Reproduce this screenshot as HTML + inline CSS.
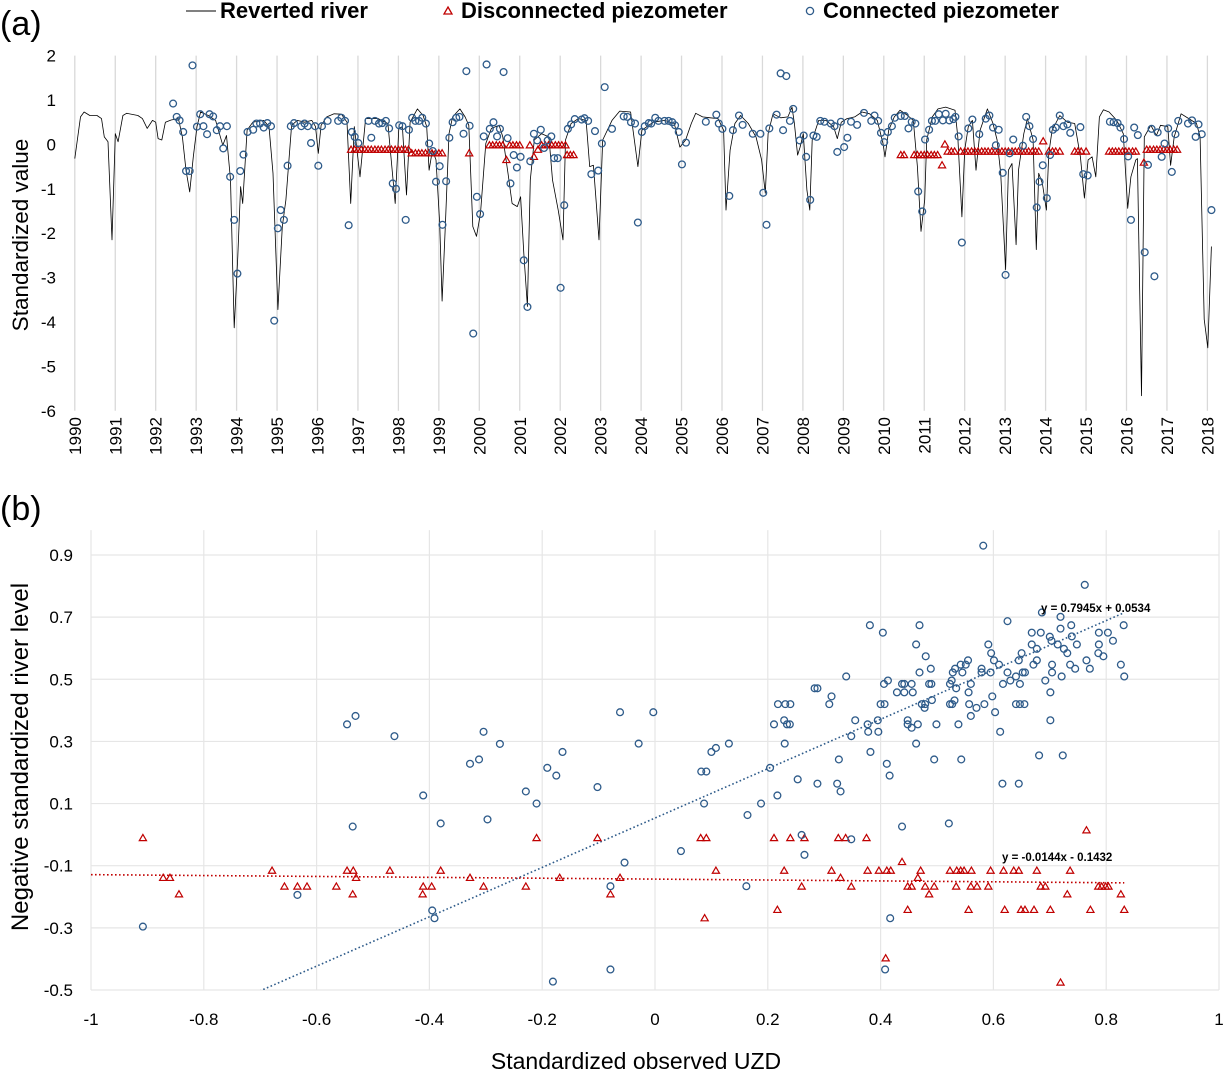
<!DOCTYPE html>
<html><head><meta charset="utf-8">
<style>
body{margin:0;background:#fff;}
svg{display:block;font-family:"Liberation Sans",Arial,sans-serif;}
</style></head>
<body>
<svg id="chart" width="1225" height="1072" viewBox="0 0 1225 1072" xmlns="http://www.w3.org/2000/svg">
<text x="0" y="35" font-size="34">(a)</text>
<text x="0" y="520" font-size="34">(b)</text>
<g font-size="22" font-weight="bold">
  <g>
    <line x1="186" y1="11" x2="216" y2="11" stroke="#000" stroke-width="1"/>
    <text x="220" y="18">Reverted river</text>
  </g>
  <g>
    <polygon points="448,7 452,14 444,14" fill="none" stroke="#c00000" stroke-width="1.3"/>
    <text x="461" y="18">Disconnected piezometer</text>
  </g>
  <g>
    <circle cx="810" cy="11" r="3.6" fill="none" stroke="#2e5b8a" stroke-width="1.3"/>
    <text x="823" y="18">Connected piezometer</text>
  </g>
</g>
<text transform="translate(28,235) rotate(-90)" text-anchor="middle" font-size="22.5">Standardized value</text>
<text transform="translate(28,757) rotate(-90)" text-anchor="middle" font-size="24">Negative standardized river level</text>
<text x="636" y="1069" text-anchor="middle" font-size="23">Standardized observed UZD</text>
<g id="pa"></g>
<g id="pb"></g>
</svg>
<script>
// ---------- Panel (a) data ----------
const riverYears = [1990.0,1990.14,1990.23,1990.37,1990.55,1990.66,1990.73,1990.82,1990.92,1991.0,1991.07,1991.19,1991.28,1991.56,1991.67,1991.79,1991.92,1992.0,1992.06,1992.15,1992.24,1992.38,1992.56,1992.66,1992.75,1992.84,1992.93,1993.02,1993.11,1993.3,1993.48,1993.66,1993.75,1993.85,1993.94,1994.03,1994.1,1994.15,1994.26,1994.4,1994.67,1994.8,1994.9,1995.02,1995.13,1995.22,1995.36,1995.5,1995.68,1995.86,1995.95,1996.02,1996.09,1996.23,1996.41,1996.59,1996.73,1996.82,1996.91,1997.05,1997.19,1997.5,1997.74,1997.92,1998.01,1998.1,1998.2,1998.29,1998.47,1998.61,1998.7,1998.76,1998.84,1998.93,1999.02,1999.08,1999.16,1999.25,1999.34,1999.52,1999.65,1999.74,1999.84,1999.93,2000.03,2000.16,2000.3,2000.49,2000.58,2000.71,2000.81,2000.94,2001.02,2001.1,2001.19,2001.26,2001.36,2001.54,2001.72,2001.81,2001.95,2002.07,2002.13,2002.27,2002.45,2002.64,2002.73,2002.82,2002.88,2002.96,2003.05,2003.28,2003.47,2003.74,2003.92,2004.02,2004.3,2004.58,2004.82,2004.96,2005.1,2005.24,2005.35,2005.52,2005.71,2005.9,2006.04,2006.1,2006.2,2006.32,2006.46,2006.65,2006.84,2006.98,2007.07,2007.14,2007.26,2007.45,2007.63,2007.73,2007.79,2007.87,2007.93,2008.01,2008.1,2008.17,2008.23,2008.39,2008.57,2008.76,2008.85,2008.95,2009.09,2009.28,2009.46,2009.65,2009.84,2009.98,2010.03,2010.12,2010.26,2010.4,2010.59,2010.73,2010.83,2010.92,2011.01,2011.06,2011.2,2011.34,2011.53,2011.76,2011.83,2011.93,2012.0,2012.09,2012.19,2012.28,2012.38,2012.56,2012.7,2012.8,2012.89,2013.01,2013.08,2013.17,2013.27,2013.33,2013.46,2013.55,2013.69,2013.77,2013.83,2013.92,2014.02,2014.08,2014.16,2014.35,2014.54,2014.72,2014.86,2014.96,2015.05,2015.15,2015.24,2015.33,2015.43,2015.57,2015.76,2015.92,2016.03,2016.11,2016.23,2016.27,2016.37,2016.44,2016.6,2016.74,2016.84,2017.02,2017.09,2017.18,2017.35,2017.54,2017.73,2017.82,2017.92,2018.01,2018.1];
const riverVals = [-0.32,0.62,0.73,0.65,0.65,0.58,0.17,0.06,-2.15,0.24,0.06,0.65,0.7,0.65,0.58,0.36,0.54,0.5,0.13,0.1,0.5,0.55,0.58,0.17,-0.58,-1.07,-0.28,0.4,0.73,0.65,0.54,-0.02,0.2,-0.8,-4.13,-2.52,-0.95,-1.33,0.32,0.5,0.54,0.4,-0.65,-3.72,-1.85,-1.25,0.43,0.54,0.5,0.54,0.4,-0.2,0.43,0.62,0.69,0.68,0.5,-1.33,0.4,-0.73,0.58,0.58,0.47,-1.33,0.36,0.4,-1.14,0.5,0.8,0.65,0.4,-0.58,-0.13,-0.35,-1.78,-3.53,-1.85,0.24,0.62,0.8,0.62,0.43,-1.85,-2.07,-1.55,0.02,0.36,0.43,0.17,-0.65,-1.33,-1.4,-1.18,-2.45,-3.65,-0.8,0.1,0.24,0.17,-0.8,-1.48,-2.15,0.1,0.47,0.58,0.54,-0.5,-0.47,-1.18,-2.15,0.1,0.54,0.75,0.73,-0.5,0.32,0.5,0.54,0.47,-0.06,0.1,0.47,0.7,0.62,0.6,0.58,0.32,-1.48,-0.13,0.47,0.65,0.47,0.17,-0.35,-1.1,0.24,0.69,0.6,0.62,0.84,0.47,-0.24,-0.06,0.24,-1.03,-1.48,0.1,0.54,0.54,0.4,0.13,0.5,0.58,0.62,0.73,0.69,0.54,0.02,-0.28,0.32,0.62,0.77,0.65,0.54,-0.5,-1.96,-1.25,0.1,0.62,0.8,0.84,0.77,0.17,-1.63,-0.13,0.4,0.54,-0.58,0.32,0.8,0.47,0.1,-0.65,-2.82,-0.58,-0.43,-2.26,-0.58,0.24,0.58,0.1,-2.37,-0.65,-0.88,-1.48,-0.2,0.32,0.65,0.5,0.47,-0.28,-1.21,-0.35,-0.28,-0.73,0.62,0.78,0.73,0.54,0.24,-1.44,-0.73,-0.35,-0.32,-5.66,0.17,0.43,0.2,0.43,0.4,-0.47,0.17,0.69,0.58,0.47,0.17,-3.94,-4.58,-2.3];

const connYears = [1992.43,1992.52,1992.59,1992.68,1992.75,1992.84,1992.91,1993.02,1993.1,1993.18,1993.27,1993.33,1993.42,1993.51,1993.59,1993.67,1993.76,1993.84,1993.94,1994.02,1994.09,1994.17,1994.27,1994.41,1994.49,1994.58,1994.67,1994.76,1994.85,1994.93,1995.02,1995.09,1995.17,1995.26,1995.34,1995.42,1995.6,1995.68,1995.76,1995.84,1995.94,1996.02,1996.11,1996.25,1996.51,1996.59,1996.68,1996.77,1996.85,1996.92,1997.01,1997.26,1997.33,1997.42,1997.52,1997.6,1997.69,1997.77,1997.86,1997.94,1998.02,1998.1,1998.18,1998.26,1998.34,1998.42,1998.51,1998.59,1998.68,1998.76,1998.85,1998.93,1999.02,1999.09,1999.18,1999.26,1999.34,1999.43,1999.51,1999.61,1999.68,1999.76,1999.85,1999.94,2000.02,2000.11,2000.18,2000.26,2000.35,2000.44,2000.51,2000.6,2000.7,2000.77,2000.85,2000.93,2001.02,2001.1,2001.19,2001.26,2001.35,2001.43,2001.52,2001.6,2001.69,2001.78,2001.85,2001.94,2002.01,2002.1,2002.19,2002.27,2002.36,2002.53,2002.6,2002.69,2002.77,2002.86,2002.94,2003.03,2003.1,2003.28,2003.57,2003.66,2003.75,2003.85,2003.92,2004.02,2004.09,2004.19,2004.25,2004.35,2004.43,2004.58,2004.68,2004.77,2004.84,2004.93,2005.01,2005.11,2005.6,2005.86,2005.92,2006.01,2006.18,2006.27,2006.42,2006.51,2006.76,2006.95,2007.02,2007.1,2007.17,2007.35,2007.45,2007.51,2007.59,2007.68,2007.76,2007.92,2008.02,2008.08,2008.18,2008.26,2008.34,2008.43,2008.53,2008.69,2008.78,2008.85,2008.94,2009.02,2009.1,2009.19,2009.34,2009.51,2009.69,2009.77,2009.86,2009.93,2010.01,2010.1,2010.2,2010.27,2010.42,2010.52,2010.61,2010.69,2010.78,2010.85,2010.95,2011.02,2011.12,2011.19,2011.27,2011.36,2011.46,2011.53,2011.62,2011.72,2011.77,2011.85,2011.93,2012.09,2012.19,2012.36,2012.52,2012.61,2012.7,2012.77,2012.84,2012.94,2013.01,2013.11,2013.2,2013.44,2013.52,2013.6,2013.69,2013.78,2013.85,2013.93,2014.03,2014.11,2014.18,2014.25,2014.35,2014.44,2014.54,2014.61,2014.86,2014.93,2015.04,2015.59,2015.68,2015.78,2015.85,2015.94,2016.04,2016.11,2016.19,2016.28,2016.45,2016.53,2016.62,2016.69,2016.77,2016.87,2016.94,2017.03,2017.12,2017.21,2017.28,2017.52,2017.62,2017.71,2017.78,2017.86,2018.1];
const connVals = [0.92,0.62,0.54,0.28,-0.6,-0.6,1.78,0.4,0.68,0.41,0.23,0.68,0.63,0.32,0.41,-0.09,0.41,-0.73,-1.7,-2.91,-0.6,-0.23,0.28,0.33,0.47,0.47,0.38,0.48,0.41,-3.97,-1.89,-1.48,-1.7,-0.48,0.41,0.48,0.41,0.47,0.41,0.03,0.41,-0.48,0.41,0.53,0.53,0.6,0.53,-1.82,0.28,0.17,0.03,0.53,0.15,0.53,0.47,0.48,0.53,0.36,-0.88,-1.0,0.43,0.41,-1.7,0.33,0.6,0.53,0.53,0.6,0.47,0.02,-0.15,-0.84,-0.49,-1.81,-0.83,0.15,0.5,0.6,0.62,0.24,1.65,0.42,-4.26,-1.18,-1.57,0.18,1.8,0.35,0.5,0.18,0.35,1.63,0.14,-0.88,-0.24,-0.52,-0.28,-2.61,-3.66,-0.38,0.24,0.09,0.33,-0.08,0.09,0.18,-0.31,-0.31,-3.23,-1.37,0.35,0.45,0.57,0.56,0.59,0.53,-0.67,0.3,-0.59,0.02,1.29,0.35,0.63,0.62,0.5,0.47,-1.76,0.28,0.41,0.48,0.47,0.6,0.53,0.53,0.53,0.5,0.43,0.28,-0.45,0.04,0.51,0.67,0.47,0.35,-1.16,0.32,0.65,0.44,0.24,0.24,-1.09,-1.81,0.36,0.67,1.6,0.32,1.54,0.53,0.8,0.09,0.2,-0.28,-1.25,0.2,0.17,0.53,0.51,0.47,0.41,-0.17,0.51,-0.06,0.15,0.51,0.44,0.71,0.53,0.65,0.53,0.26,0.05,0.28,0.41,0.6,0.64,0.64,0.36,0.51,0.47,-1.06,-1.51,0.11,0.33,0.53,0.53,0.68,0.54,0.69,0.54,0.57,0.62,0.18,-2.21,0.36,0.56,0.23,0.58,0.65,0.38,-0.02,0.33,-0.64,-2.94,-0.2,0.11,-0.03,0.62,0.41,0.12,-1.42,-0.84,-0.47,-1.21,-0.24,0.33,0.38,0.65,0.41,0.45,0.26,0.39,-0.67,-0.7,0.51,0.5,0.48,0.38,0.12,-0.27,-1.7,0.38,0.21,-2.43,-0.46,0.35,-2.97,0.27,-0.28,0.02,0.36,-0.62,0.23,0.53,0.47,0.54,0.17,0.45,0.23,-1.48];

const discYears = [1996.83,1996.92,1997.0,1997.08,1997.17,1997.25,1997.33,1997.42,1997.5,1997.58,1997.67,1997.75,1997.83,1997.92,1998.0,1998.08,1998.17,1998.25,1998.33,1998.42,1998.5,1998.58,1998.67,1998.75,1998.83,1998.92,1999.0,1999.08,1999.75,2000.25,2000.33,2000.42,2000.5,2000.58,2000.67,2000.75,2000.83,2000.92,2001.0,2001.25,2001.35,2001.45,2001.54,2001.63,2001.71,2001.79,2001.88,2001.96,2002.04,2002.13,2002.17,2002.25,2002.33,2010.42,2010.5,2010.75,2010.83,2010.92,2011.0,2011.08,2011.17,2011.25,2011.33,2011.44,2011.51,2011.58,2011.67,2011.75,2011.9,2012.0,2012.08,2012.17,2012.25,2012.33,2012.42,2012.5,2012.58,2012.67,2012.75,2012.83,2012.92,2013.0,2013.08,2013.17,2013.25,2013.33,2013.42,2013.5,2013.58,2013.67,2013.75,2013.83,2013.94,2014.08,2014.17,2014.25,2014.35,2014.72,2014.8,2014.88,2015.0,2015.57,2015.65,2015.73,2015.81,2015.9,2015.98,2016.06,2016.15,2016.23,2016.43,2016.5,2016.58,2016.67,2016.75,2016.83,2016.92,2017.0,2017.08,2017.17,2017.25];
const discVals = [-0.12,-0.12,-0.12,-0.12,-0.12,-0.12,-0.12,-0.12,-0.12,-0.12,-0.12,-0.12,-0.12,-0.12,-0.12,-0.12,-0.12,-0.12,-0.2,-0.2,-0.2,-0.2,-0.2,-0.2,-0.2,-0.2,-0.2,-0.2,-0.2,-0.02,-0.02,-0.02,-0.02,-0.02,-0.35,-0.02,-0.02,-0.02,-0.02,-0.02,-0.28,-0.12,-0.02,-0.02,-0.02,-0.02,-0.02,-0.02,-0.02,-0.02,-0.24,-0.24,-0.24,-0.24,-0.24,-0.24,-0.24,-0.24,-0.24,-0.24,-0.24,-0.24,-0.24,-0.47,0.0,-0.16,-0.16,-0.16,-0.16,-0.16,-0.16,-0.16,-0.16,-0.16,-0.16,-0.16,-0.16,-0.16,-0.16,-0.16,-0.16,-0.16,-0.16,-0.16,-0.16,-0.16,-0.16,-0.16,-0.16,-0.16,-0.16,-0.16,0.07,-0.16,-0.16,-0.16,-0.16,-0.16,-0.16,-0.16,-0.16,-0.16,-0.16,-0.16,-0.16,-0.16,-0.16,-0.16,-0.16,-0.16,-0.41,-0.12,-0.12,-0.12,-0.12,-0.12,-0.12,-0.12,-0.12,-0.12,-0.12];

const yTicksA = [2,1,0,-1,-2,-3,-4,-5,-6];
const yearTicks = [1990,1991,1992,1993,1994,1995,1996,1997,1998,1999,2000,2001,2002,2003,2004,2005,2006,2007,2008,2009,2010,2011,2012,2013,2014,2015,2016,2017,2018];

// ---------- Panel (b) data ----------
const bConnX = [-0.908,-0.634,-0.546,-0.531,-0.536,-0.462,-0.411,-0.395,-0.391,-0.38,-0.328,-0.312,-0.304,-0.297,-0.275,-0.229,-0.21,-0.191,-0.175,-0.164,-0.181,-0.102,-0.079,-0.079,-0.062,-0.054,-0.029,-0.003,0.582,0.762,0.686,0.719,0.738,0.831,0.787,0.803,0.812,0.787,0.748,0.668,0.684,0.7,0.703,0.714,0.725,0.731,0.739,0.719,0.625,0.668,0.677,0.65,0.645,0.677,0.671,0.704,0.736,0.745,0.765,0.771,0.786,0.795,0.826,0.832,0.704,0.721,0.692,0.701,0.701,0.681,0.723,0.591,0.596,0.601,0.61,0.625,0.64,0.652,0.656,0.63,0.617,0.647,0.579,0.579,0.595,0.598,0.64,0.647,0.655,0.603,0.612,0.616,0.645,0.555,0.551,0.542,0.532,0.528,0.545,0.526,0.523,0.534,0.56,0.556,0.531,0.523,0.527,0.557,0.584,0.57,0.56,0.538,0.543,0.521,0.469,0.463,0.48,0.489,0.469,0.455,0.486,0.49,0.457,0.491,0.473,0.479,0.478,0.499,0.466,0.455,0.448,0.448,0.463,0.495,0.381,0.404,0.339,0.413,0.406,0.438,0.442,0.429,0.442,0.4,0.407,0.395,0.377,0.378,0.396,0.355,0.348,0.382,0.411,0.416,0.438,0.417,0.408,0.283,0.288,0.313,0.309,0.218,0.231,0.24,0.229,0.211,0.234,0.239,0.23,0.326,0.204,0.253,0.288,0.323,0.329,0.217,0.188,0.164,0.26,0.265,0.348,0.1,0.108,0.131,0.082,0.091,0.087,0.046,0.162];
const bConnY = [-0.296,-0.194,0.355,0.382,0.026,0.317,0.126,-0.244,-0.269,0.036,0.228,0.242,0.331,0.049,0.292,0.139,0.1,0.215,0.19,0.266,-0.473,0.153,-0.166,-0.434,0.394,-0.09,0.293,0.394,0.93,0.804,0.715,0.701,0.674,0.674,0.65,0.65,0.624,0.612,0.612,0.65,0.65,0.637,0.624,0.612,0.598,0.584,0.638,0.663,0.687,0.612,0.598,0.584,0.561,0.561,0.547,0.547,0.547,0.534,0.561,0.534,0.584,0.574,0.547,0.509,0.522,0.509,0.496,0.458,0.368,0.255,0.255,0.612,0.584,0.561,0.547,0.522,0.509,0.522,0.522,0.496,0.485,0.485,0.534,0.522,0.522,0.445,0.42,0.42,0.42,0.394,0.331,0.164,0.164,0.561,0.547,0.547,0.534,0.522,0.522,0.496,0.485,0.471,0.485,0.458,0.432,0.42,0.42,0.42,0.42,0.408,0.382,0.355,0.242,0.036,0.674,0.612,0.574,0.534,0.522,0.485,0.485,0.485,0.458,0.433,0.42,0.42,0.408,0.355,0.355,0.344,0.368,0.355,0.293,0.242,0.674,0.65,0.509,0.496,0.485,0.485,0.485,0.458,0.458,0.42,0.42,0.368,0.355,0.331,0.331,0.368,0.317,0.266,0.228,0.19,0.026,-0.269,-0.434,0.471,0.471,0.445,0.42,0.42,0.42,0.42,0.368,0.355,0.355,0.355,0.293,0.242,0.215,0.178,0.164,0.164,0.139,0.126,0.1,0.063,-0.001,-0.065,-0.015,0.266,0.279,0.293,0.203,0.203,0.1,-0.053,-0.166];
const bDiscX = [-0.908,-0.872,-0.86,-0.844,-0.679,-0.657,-0.634,-0.617,-0.565,-0.546,-0.535,-0.53,-0.536,-0.47,-0.411,-0.412,-0.396,-0.38,-0.328,-0.304,-0.229,-0.21,-0.169,-0.102,-0.079,-0.062,0.081,0.091,0.108,0.088,0.211,0.24,0.265,0.229,0.217,0.26,0.313,0.325,0.338,0.375,0.329,0.348,0.377,0.397,0.411,0.418,0.438,0.409,0.448,0.455,0.448,0.466,0.471,0.479,0.486,0.495,0.523,0.535,0.542,0.548,0.561,0.534,0.56,0.571,0.556,0.591,0.595,0.618,0.636,0.645,0.62,0.649,0.656,0.672,0.677,0.684,0.692,0.701,0.731,0.736,0.765,0.719,0.772,0.786,0.792,0.799,0.804,0.826,0.832];
const bDiscY = [-0.011,-0.139,-0.139,-0.192,-0.116,-0.167,-0.167,-0.167,-0.167,-0.116,-0.116,-0.139,-0.192,-0.116,-0.167,-0.192,-0.167,-0.116,-0.139,-0.167,-0.167,-0.011,-0.139,-0.011,-0.192,-0.139,-0.011,-0.011,-0.116,-0.269,-0.011,-0.011,-0.011,-0.116,-0.242,-0.167,-0.116,-0.011,-0.011,-0.011,-0.139,-0.167,-0.116,-0.116,-0.116,-0.116,-0.088,-0.398,-0.167,-0.167,-0.242,-0.139,-0.116,-0.167,-0.192,-0.167,-0.116,-0.116,-0.116,-0.116,-0.116,-0.167,-0.167,-0.167,-0.242,-0.167,-0.116,-0.116,-0.116,-0.116,-0.242,-0.242,-0.242,-0.242,-0.116,-0.167,-0.167,-0.242,-0.192,-0.116,0.014,-0.476,-0.242,-0.167,-0.167,-0.167,-0.167,-0.192,-0.242];
const connTrend = [0.7945, 0.0534];   // slope, intercept
const discTrend = [-0.0144, -0.1432];
const xTicksB = [-1,-0.8,-0.6,-0.4,-0.2,0,0.2,0.4,0.6,0.8,1];
const xTickLabelsB = ["-1","-0.8","-0.6","-0.4","-0.2","0","0.2","0.4","0.6","0.8","1"];
const yTicksB = [0.9,0.7,0.5,0.3,0.1,-0.1,-0.3,-0.5];
const yTickLabelsB = ["0.9","0.7","0.5","0.3","0.1","-0.1","-0.3","-0.5"];
const trendLabels = ["y = 0.7945x + 0.0534","y = -0.0144x - 0.1432"];

const NS = "http://www.w3.org/2000/svg";
function mk(tag, attrs, parent){const e=document.createElementNS(NS,tag);for(const k in attrs)e.setAttribute(k,attrs[k]);parent.appendChild(e);return e;}
const BLUE="#2e5b8a", RED="#c00000";
function tri(g,x,y){return mk("polygon",{points:`${x},${y-3.6} ${x+3.6},${y+2.6} ${x-3.6},${y+2.6}`,fill:"none",stroke:RED,"stroke-width":1.2},g);}

// ---------- Panel (a) ----------
const pa = document.getElementById("pa");
const xA = yr => 74.8 + 40.45*(yr-1990);
const yA = v => 144.4 - 44.4*v;
for (const yr of yearTicks){
  const l = mk("line",{x1:xA(yr),x2:xA(yr),y1:yA(2),y2:yA(-6),stroke:"#d9d9d9","stroke-width":1.3},pa);
  
  
  const t = mk("text",{transform:`translate(${xA(yr)+6},417) rotate(-90)`,"text-anchor":"end","font-size":17},pa);
  t.textContent = yr;
  
  
}
for (const v of yTicksA){
  const t = mk("text",{x:56,y:yA(v)+6,"text-anchor":"end","font-size":17},pa);
  t.textContent = v;
  
  
}
const rp = mk("polyline",{points:riverYears.map((y,i)=>xA(y).toFixed(1)+","+yA(riverVals[i]).toFixed(1)).join(" "),fill:"none",stroke:"#000","stroke-width":0.8,"stroke-linejoin":"round"},pa);


discYears.forEach((y,i)=>{
  const p = tri(pa,xA(y),yA(discVals[i]));
  
  
});
connYears.forEach((y,i)=>{
  const c = mk("circle",{cx:xA(y),cy:yA(connVals[i]),r:3.4,fill:"none",stroke:BLUE,"stroke-width":1.3},pa);
  
  
});

// ---------- Panel (b) ----------
const pb = document.getElementById("pb");
const xB = v => 655 + 564*v;
const yB = v => 555 + (0.9-v)*310.7;
xTicksB.forEach((v,i)=>{
  const l = mk("line",{x1:xB(v),x2:xB(v),y1:yB(0.98),y2:yB(-0.5),stroke:"#e6e6e6","stroke-width":1.2},pb);
  
  
  const t = mk("text",{x:xB(v),y:1025,"text-anchor":"middle","font-size":17},pb);
  t.textContent = xTickLabelsB[i];
  
  
});
yTicksB.forEach((v,i)=>{
  const l = mk("line",{x1:xB(-1),x2:xB(1),y1:yB(v),y2:yB(v),stroke:"#e6e6e6","stroke-width":1.2},pb);
  
  
  const t = mk("text",{x:73,y:yB(v)+6,"text-anchor":"end","font-size":17},pb);
  t.textContent = yTickLabelsB[i];
  
  
});
const defs = mk("defs",{},pb);
const cp = mk("clipPath",{id:"clipB"},defs);
mk("rect",{x:xB(-1),y:yB(0.98),width:xB(1)-xB(-1),height:yB(-0.5)-yB(0.98)},cp);
function trend(coef, x0, x1, color, name){
  const l = mk("line",{x1:xB(x0),y1:yB(coef[0]*x0+coef[1]),x2:xB(x1),y2:yB(coef[0]*x1+coef[1]),stroke:color,"stroke-width":1.6,"stroke-dasharray":"1.6 2.4","clip-path":"url(#clipB)"},pb);
  
  
}
trend(connTrend, -1, Math.max(...bConnX), BLUE, 'connected-trendline');
trend(discTrend, -1, Math.max(...bDiscX), RED, 'disconnected-trendline');
bDiscX.forEach((x,i)=>{
  const p = tri(pb,xB(x),yB(bDiscY[i]));
  
  
});
bConnX.forEach((x,i)=>{
  const c = mk("circle",{cx:xB(x),cy:yB(bConnY[i]),r:3.4,fill:"none",stroke:BLUE,"stroke-width":1.3},pb);
  
  
});
const e1 = mk("text",{x:1041,y:612,"font-size":11.5,"font-weight":"bold"},pb);
e1.textContent = trendLabels[0];


const e2 = mk("text",{x:1002,y:861,"font-size":11.5,"font-weight":"bold"},pb);
e2.textContent = trendLabels[1];


</script>
</body></html>
